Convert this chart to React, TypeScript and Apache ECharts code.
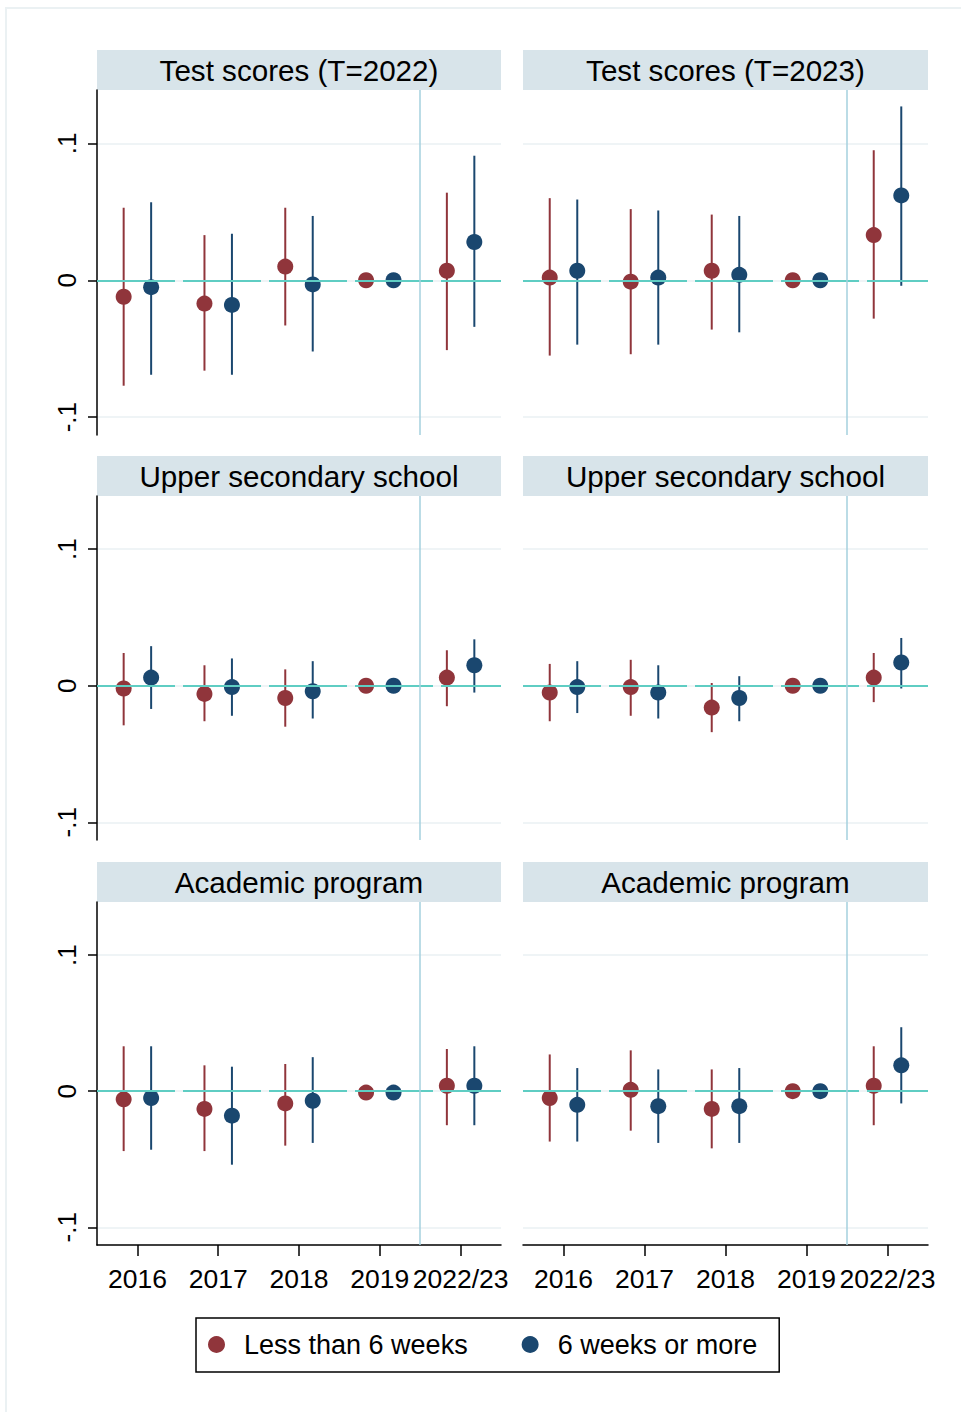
import React, { useEffect, useRef } from "react";
import * as echarts from "echarts";

// ---------- data ----------
const categories = ["2016", "2017", "2018", "2019", "2022/23"];
const seriesNames = ["Less than 6 weeks", "6 weeks or more"];
const panelTitles = [
  "Test scores (T=2022)",
  "Test scores (T=2023)",
  "Upper secondary school",
  "Upper secondary school",
  "Academic program",
  "Academic program",
];
const yTickValues = [-0.1, 0, 0.1];
const yTickLabels = ["-.1", "0", ".1"];

// each row: [estimate, lower CI, upper CI] per category (2019 = reference year)
const testT2022Short = [[-0.012, -0.077, 0.053], [-0.017, -0.066, 0.033], [0.010, -0.033, 0.053], [0, null, null], [0.007, -0.051, 0.064]];
const testT2022Long = [[-0.005, -0.069, 0.057], [-0.018, -0.069, 0.034], [-0.003, -0.052, 0.047], [0, null, null], [0.028, -0.034, 0.091]];
const testT2023Short = [[0.002, -0.055, 0.060], [-0.001, -0.054, 0.052], [0.007, -0.036, 0.048], [0, null, null], [0.033, -0.028, 0.095]];
const testT2023Long = [[0.007, -0.047, 0.059], [0.002, -0.047, 0.051], [0.004, -0.038, 0.047], [0, null, null], [0.062, -0.004, 0.127]];
const upperSecLeftShort = [[-0.002, -0.029, 0.024], [-0.006, -0.026, 0.015], [-0.009, -0.030, 0.012], [0, null, null], [0.006, -0.015, 0.026]];
const upperSecLeftLong = [[0.006, -0.017, 0.029], [-0.001, -0.022, 0.020], [-0.004, -0.024, 0.018], [0, null, null], [0.015, -0.005, 0.034]];
const upperSecRightShort = [[-0.005, -0.026, 0.016], [-0.001, -0.022, 0.019], [-0.016, -0.034, 0.002], [0, null, null], [0.006, -0.012, 0.024]];
const upperSecRightLong = [[-0.001, -0.020, 0.018], [-0.005, -0.024, 0.015], [-0.009, -0.026, 0.007], [0, null, null], [0.017, -0.002, 0.035]];
const academicLeftShort = [[-0.006, -0.044, 0.033], [-0.013, -0.044, 0.019], [-0.009, -0.040, 0.020], [-0.001, null, null], [0.004, -0.025, 0.031]];
const academicLeftLong = [[-0.005, -0.043, 0.033], [-0.018, -0.054, 0.018], [-0.007, -0.038, 0.025], [-0.001, null, null], [0.004, -0.025, 0.033]];
const academicRightShort = [[-0.005, -0.037, 0.027], [0.001, -0.029, 0.030], [-0.013, -0.042, 0.016], [0, null, null], [0.004, -0.025, 0.033]];
const academicRightLong = [[-0.010, -0.037, 0.017], [-0.011, -0.038, 0.016], [-0.011, -0.038, 0.017], [0, null, null], [0.019, -0.009, 0.047]];

const panelData = [
  [testT2022Short, testT2022Long],
  [testT2023Short, testT2023Long],
  [upperSecLeftShort, upperSecLeftLong],
  [upperSecRightShort, upperSecRightLong],
  [academicLeftShort, academicLeftLong],
  [academicRightShort, academicRightLong],
];

// ---------- style / layout ----------
const FONT = "'Liberation Sans', Arial, Helvetica, sans-serif";
const RED = "#90353B";
const BLUE = "#1A476F";
const STRIP = "#D8E4EA";
const GRID = "#EAF1F3";
const ZERO = "#5FCDC3";
const VLINE = "#A5D1DE";
const DODGE = 0.17;
const colLeft = [97, 523];
const colWidth = [404, 405];
const rowTop = [90, 496, 902];
const rowHeight = [345, 344, 343];
const stripHeight = 40;
const Y_MIN = -0.113;
const Y_MAX = 0.139;

function tickLabel(v: number) {
  let best = 0;
  yTickValues.forEach((t, i) => {
    if (Math.abs(t - v) < Math.abs(yTickValues[best] - v)) best = i;
  });
  return yTickLabels[best];
}

function buildOption() {
  const grid: any[] = [];
  const xAxis: any[] = [];
  const yAxis: any[] = [];
  const series: any[] = [];
  const graphic: any[] = [];

  graphic.push({
    type: "rect",
    shape: { x: 6, y: 8, width: 1000, height: 1500 },
    style: { fill: "none", stroke: "#EBF1F3", lineWidth: 2 },
    silent: true,
  });

  panelTitles.forEach((title, i) => {
    const row = Math.floor(i / 2);
    const col = i % 2;
    const left = colLeft[col];
    const top = rowTop[row];
    grid.push({ left, top, width: colWidth[col], height: rowHeight[row], containLabel: false });

    graphic.push({
      type: "rect",
      shape: { x: left, y: top - stripHeight, width: colWidth[col], height: stripHeight },
      style: { fill: STRIP },
      silent: true,
    });
    graphic.push({
      type: "text",
      x: left + colWidth[col] / 2,
      y: top - stripHeight / 2,
      style: { text: title, fontSize: 29.6, fontFamily: FONT, fill: "#000", align: "center", verticalAlign: "middle" },
      silent: true,
    });

    const bottom = row === 2;
    xAxis.push({
      type: "value",
      gridIndex: i,
      min: 0.5,
      max: 5.5,
      axisLine: { show: bottom, onZero: false, lineStyle: { color: "#000", width: 1.5 } },
      axisTick: {
        show: bottom,
        customValues: [1, 2, 3, 4, 5],
        length: 11,
        lineStyle: { color: "#000", width: 1.5 },
      },
      axisLabel: {
        show: bottom,
        customValues: [1, 2, 3, 4, 5],
        formatter: (v: number) => categories[Math.round(v) - 1],
        fontSize: 26.5,
        fontFamily: FONT,
        color: "#000",
        margin: 20,
      },
      splitLine: { show: false },
    });

    const leftCol = col === 0;
    yAxis.push({
      type: "value",
      gridIndex: i,
      min: Y_MIN,
      max: Y_MAX,
      axisLine: { show: leftCol, onZero: false, lineStyle: { color: "#000", width: 1.5 } },
      axisTick: {
        show: leftCol,
        customValues: yTickValues,
        length: 9,
        lineStyle: { color: "#000", width: 1.5 },
      },
      axisLabel: {
        show: leftCol,
        customValues: yTickValues,
        formatter: (v: number) => tickLabel(v),
        rotate: 90,
        align: "center",
        verticalAlign: "bottom",
        fontSize: 26,
        fontFamily: FONT,
        color: "#000",
        margin: 17,
      },
      splitLine: { show: true, lineStyle: { color: GRID, width: 1.5 } },
    });

    // reference lines
    series.push({
      type: "line",
      name: "ref" + i,
      xAxisIndex: i,
      yAxisIndex: i,
      data: [],
      z: 1,
      silent: true,
      markLine: {
        silent: true,
        symbol: ["none", "none"],
        label: { show: false },
        emphasis: { disabled: true },
        data: [
          { yAxis: 0, lineStyle: { color: ZERO, width: 2, type: [78, 8] } },
          { xAxis: 4.5, lineStyle: { color: VLINE, width: 1.5, type: "solid" } },
        ],
      },
    });

    const [shortRows, longRows] = panelData[i];
    [shortRows, longRows].forEach((rows, g) => {
      const offset = g === 0 ? -DODGE : DODGE;
      const color = g === 0 ? RED : BLUE;
      const ciData = rows
        .map((r, k) => (r[1] == null ? null : [k + 1 + offset, r[1], r[2]]))
        .filter((d) => d !== null);
      series.push({
        type: "custom",
        name: "ci" + i + "_" + g,
        xAxisIndex: i,
        yAxisIndex: i,
        z: 2,
        silent: true,
        data: ciData,
        encode: { x: 0, y: [1, 2] },
        renderItem: (params: any, api: any) => {
          const p1 = api.coord([api.value(0), api.value(1)]);
          const p2 = api.coord([api.value(0), api.value(2)]);
          return {
            type: "line",
            shape: { x1: p1[0], y1: p1[1], x2: p2[0], y2: p2[1] },
            style: { stroke: color, lineWidth: 2 },
          };
        },
      });
      series.push({
        type: "scatter",
        name: seriesNames[g],
        xAxisIndex: i,
        yAxisIndex: i,
        z: 3,
        symbol: "circle",
        symbolSize: 16,
        itemStyle: { color, opacity: 1 },
        data: rows.map((r, k) => [k + 1 + offset, r[0]]),
      });
    });
  });

  return {
    animation: false,
    backgroundColor: "#fff",
    grid,
    xAxis,
    yAxis,
    series,
    graphic,
    legend: {
      left: 196,
      top: 1318,
      orient: "horizontal",
      selectedMode: false,
      borderColor: "#000",
      borderWidth: 1.5,
      borderRadius: 0,
      padding: [13, 22, 14, 12],
      itemWidth: 17,
      itemHeight: 17,
      itemGap: 54,
      textStyle: { fontSize: 27, fontFamily: FONT, color: "#000", padding: [0, 0, 0, 14] },
      data: seriesNames.map((n) => ({ name: n, icon: "circle" })),
    },
  };
}

export default function App() {
  const ref = useRef<HTMLDivElement>(null);
  useEffect(() => {
    if (!ref.current) return;
    const chart = echarts.init(ref.current, null, { renderer: "svg" });
    chart.setOption(buildOption() as any);
    return () => chart.dispose();
  }, []);
  return (
    <div
      ref={ref}
      style={{ position: "absolute", left: 0, top: 0, width: 961, height: 1412, background: "#fff" }}
    />
  );
}
